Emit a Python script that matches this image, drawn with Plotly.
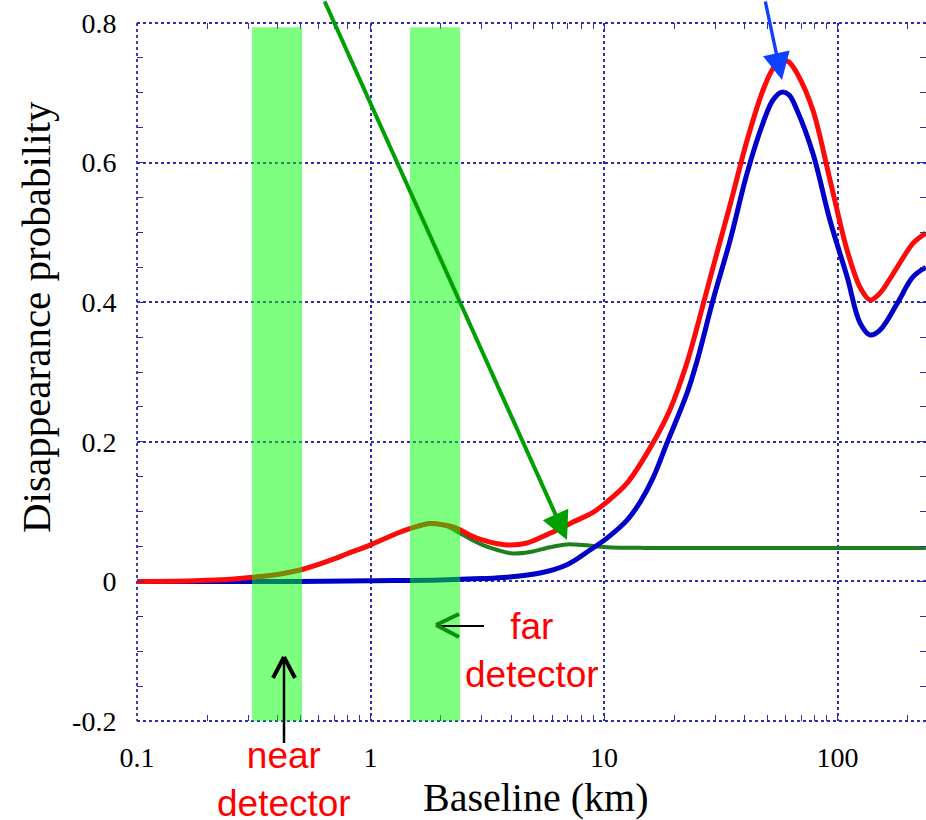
import plotly.graph_objects as go

# ---------------- data ----------------
baseline_red = [0.1, 0.18, 0.25, 0.314, 0.4, 0.509, 0.671, 0.8, 0.995, 1.3, 1.52, 1.8, 2.13, 2.42,
                2.67, 3.03, 3.5, 3.96, 4.68, 5.87, 7.37, 8.97, 10.3, 12.5, 15.8, 19.1, 22.7, 26.5,
                29.3, 34.7, 41.0, 48.0, 53.0, 57.8, 62.0, 67.1, 78.5, 92.9, 110, 125, 138, 152,
                180, 210, 239]
prob_red = [0.0, 0.001, 0.003, 0.006, 0.010, 0.017, 0.030, 0.040, 0.052, 0.069, 0.077, 0.083, 0.080,
            0.074, 0.066, 0.059, 0.054, 0.052, 0.055, 0.069, 0.085, 0.099, 0.114, 0.140, 0.192,
            0.245, 0.314, 0.395, 0.450, 0.540, 0.632, 0.704, 0.735, 0.747, 0.744, 0.728, 0.675,
            0.575, 0.474, 0.421, 0.403, 0.413, 0.450, 0.484, 0.499]

baseline_blue = [0.1, 0.5, 1.0, 1.98, 3.0, 3.84, 5.32, 6.94, 8.71, 10.3, 12.5, 14.3, 16.2, 18.6,
                 22.7, 25.0, 29.3, 34.7, 41.0, 48.0, 53.0, 57.8, 62.0, 67.1, 78.5, 92.9, 110, 125,
                 138, 152, 180, 210, 239]
prob_blue = [0.0, 0.0, 0.001, 0.002, 0.004, 0.006, 0.012, 0.024, 0.045, 0.062, 0.087, 0.114, 0.148,
             0.198, 0.270, 0.315, 0.403, 0.489, 0.585, 0.657, 0.690, 0.701, 0.697, 0.675, 0.613,
             0.517, 0.436, 0.370, 0.353, 0.360, 0.398, 0.436, 0.450]

baseline_green = [0.1, 0.18, 0.25, 0.314, 0.4, 0.509, 0.671, 0.8, 0.995, 1.3, 1.52, 1.8, 1.98, 2.13,
                  2.42, 2.67, 3.03, 3.5, 4.06, 4.81, 5.87, 6.94, 8.1, 10.3, 15, 30, 100, 239]
prob_green = [0.0, 0.001, 0.003, 0.006, 0.010, 0.017, 0.030, 0.040, 0.052, 0.069, 0.077, 0.083, 0.082,
              0.079, 0.069, 0.061, 0.052, 0.045, 0.040, 0.042, 0.049, 0.053, 0.052, 0.049, 0.048,
              0.048, 0.048, 0.048]

# detector bands (km)
near_band = [0.311, 0.509]
far_band = [1.476, 2.42]
band_top = 0.794

x_tickvals = [0.1, 1, 10, 100]
x_ticktext = ["0.1", "1", "10", "100"]
y_tickvals = [-0.2, 0.0, 0.2, 0.4, 0.6, 0.8]
y_ticktext = ["-0.2", "0", "0.2", "0.4", "0.6", "0.8"]

# ---------------- layout geometry ----------------
WIDTH, HEIGHT = 926, 820
L, T = 137, 23
PW, PH = WIDTH - L, 698


def px(xp):
    return (xp - L) / PW


def py(yp):
    return (T + PH - yp) / PH


SERIF = "Liberation Serif, Times New Roman, serif"
HAND = "Liberation Sans, Arial, sans-serif"
GRID = "rgb(45,45,175)"

fig = go.Figure()
fig.add_trace(go.Scatter(x=baseline_green, y=prob_green, mode="lines",
                         line=dict(color="#1f7f1f", width=4, shape="spline", smoothing=0.9),
                         hoverinfo="skip"))
fig.add_trace(go.Scatter(x=baseline_blue, y=prob_blue, mode="lines",
                         line=dict(color="#0000c8", width=5, shape="spline", smoothing=1.0),
                         hoverinfo="skip"))
fig.add_trace(go.Scatter(x=baseline_red, y=prob_red, mode="lines",
                         line=dict(color="#ff0a0a", width=5, shape="spline", smoothing=0.9),
                         hoverinfo="skip"))

shapes = []


def seg(x0, y0, x1, y1, color, width, dash=None, layer="above"):
    line = dict(color=color, width=width)
    if dash:
        line["dash"] = dash
    return dict(type="line", xref="paper", yref="paper", x0=px(x0), y0=py(y0),
                x1=px(x1), y1=py(y1), line=line, layer=layer)


# dotted frame (left, top, bottom)
shapes.append(seg(L, T, L, T + PH, GRID, 1.8, "dot", "below"))
shapes.append(seg(L, T, WIDTH, T, GRID, 1.8, "dot", "below"))
shapes.append(seg(L, T + PH, WIDTH, T + PH, GRID, 1.8, "dot", "below"))

for band in (near_band, far_band):
    shapes.append(dict(type="rect", xref="x", yref="y", x0=band[0], x1=band[1],
                       y0=-0.2, y1=band_top, fillcolor="rgba(0,255,0,0.5)",
                       line=dict(width=0), layer="above"))

# far detector arrow: black shaft, green open head
shapes.append(seg(438, 626, 484, 626, "black", 2))
shapes.append(seg(436, 625, 459, 614, "#108a10", 4))
shapes.append(seg(436, 625, 459, 637, "#108a10", 4))
# near detector arrow: black
shapes.append(seg(284, 660, 284, 743, "black", 2.5))
shapes.append(seg(284, 657, 273, 678, "black", 4))
shapes.append(seg(284, 657, 295, 678, "black", 4))

annotations = [
    dict(text="Disappearance probability", xref="paper", yref="paper", x=px(36), y=py(317),
         textangle=-90, showarrow=False, xanchor="center", yanchor="middle",
         font=dict(family=SERIF, size=41, color="black")),
    dict(text="Baseline (km)", xref="paper", yref="paper", x=px(536), y=py(798),
         showarrow=False, xanchor="center", yanchor="middle",
         font=dict(family=SERIF, size=40, color="black")),
    dict(text="near<br>detector", xref="paper", yref="paper", x=px(284), y=py(779),
         showarrow=False, xanchor="center", yanchor="middle", align="center",
         font=dict(family=HAND, size=37, color="#ff0000")),
    dict(text="far<br>detector", xref="paper", yref="paper", x=px(532), y=py(650),
         showarrow=False, xanchor="center", yanchor="middle", align="center",
         font=dict(family=HAND, size=37, color="#ff0000")),
    # long green arrow
    dict(text="", xref="paper", yref="paper", x=px(567), y=py(540), ax=-243, ay=-560,
         showarrow=True, arrowhead=2, arrowsize=1.4, arrowwidth=4, arrowcolor="#00a000"),
    # blue arrow
    dict(text="", xref="paper", yref="paper", x=px(782), y=py(80), ax=-17, ay=-100,
         showarrow=True, arrowhead=2, arrowsize=1.6, arrowwidth=3.4, arrowcolor="#1040ff"),
]

minor_x = [k * 10 ** e for e in (-1, 0, 1, 2) for k in range(2, 10)]

fig.update_layout(
    width=WIDTH, height=HEIGHT,
    margin=dict(l=L, r=0, t=T, b=HEIGHT - T - PH, pad=0),
    paper_bgcolor="white", plot_bgcolor="white",
    showlegend=False,
    shapes=shapes,
    annotations=annotations,
    xaxis=dict(type="log", range=[-1, -1 + PW / 233.5], tickvals=x_tickvals, ticktext=x_ticktext,
               showgrid=True, gridcolor=GRID, griddash="dot", gridwidth=1.6,
               ticks="inside", ticklen=7, tickcolor=GRID, tickwidth=1.2,
               minor=dict(tickvals=minor_x, ticks="inside", ticklen=6, tickcolor=GRID,
                          tickwidth=1.2, showgrid=False),
               mirror="allticks", showline=True, linecolor="rgba(0,0,0,0)", linewidth=1,
               zeroline=False,
               tickfont=dict(family=SERIF, size=28, color="black"),
               ticklabelstandoff=11, fixedrange=True),
    yaxis=dict(range=[-0.2, 0.8], tickvals=y_tickvals, ticktext=y_ticktext,
               showgrid=True, gridcolor=GRID, griddash="dot", gridwidth=1.6,
               ticks="inside", ticklen=7, tickcolor=GRID, tickwidth=1.2,
               minor=dict(dtick=0.05, ticks="inside", ticklen=6, tickcolor=GRID,
                          tickwidth=1.2, showgrid=False),
               mirror="allticks", showline=True, linecolor="rgba(0,0,0,0)", linewidth=1,
               zeroline=False,
               tickfont=dict(family=SERIF, size=28, color="black"),
               ticklabelstandoff=14, fixedrange=True),
)

fig.write_html("out.html")
